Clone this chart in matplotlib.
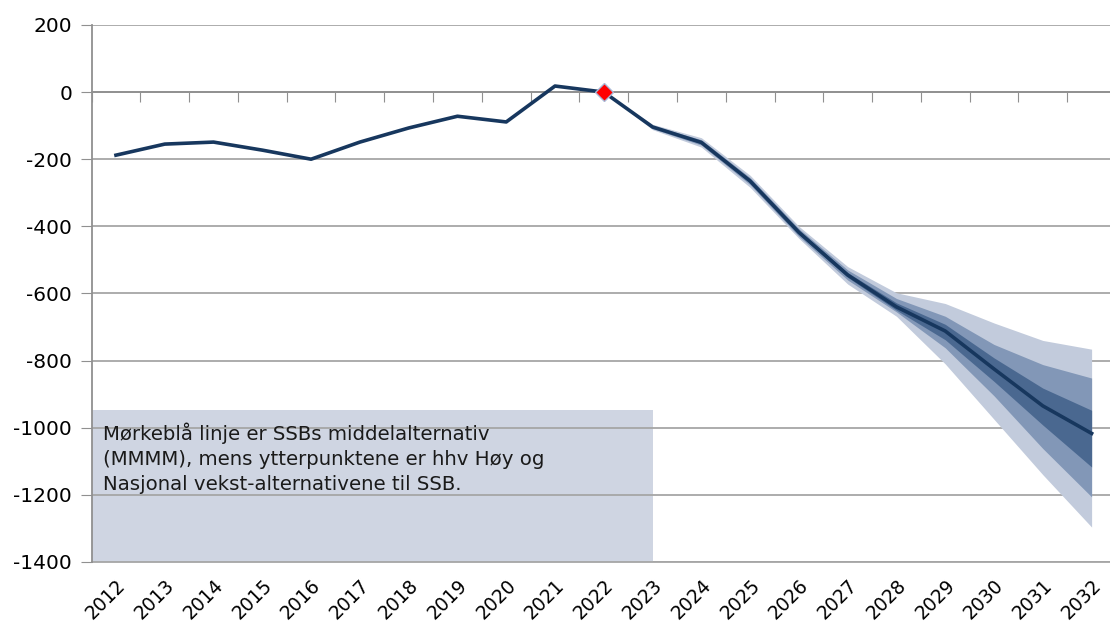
import numpy as np
import matplotlib
matplotlib.use("Agg")
import matplotlib.pyplot as plt
from matplotlib.patches import Rectangle

plt.rcParams["axes.unicode_minus"] = False

# ---------------------------------
# Data
# ---------------------------------
years = [str(y) for y in range(2012, 2033)]

# historical + middle alternative (2012-2032)
middle = [-188, -155, -149, -173, -200, -149, -107, -72, -89, 18, 0,
          -104, -150, -265, -418, -545, -640, -712, -825, -935, -1017]

# fan bands, 2022-2032
fan_years = years[10:]
light_hi = [0, -96, -136, -248, -400, -520, -598, -630, -688, -740, -766]
light_lo = [0, -112, -164, -284, -436, -572, -668, -810, -975, -1140, -1296]
mid_hi = [0, -99, -142, -255, -407, -530, -615, -668, -752, -812, -852]
mid_lo = [0, -109, -158, -276, -430, -560, -655, -762, -905, -1062, -1206]
dark_hi = [0, -102, -146, -260, -412, -538, -628, -692, -792, -882, -948]
dark_lo = [0, -106, -154, -270, -424, -552, -650, -738, -862, -992, -1117]

note = ("Mørkeblå linje er SSBs middelalternativ\n"
        "(MMMM), mens ytterpunktene er hhv Høy og\n"
        "Nasjonal vekst-alternativene til SSB.")

# ---------------------------------
# Chart
# ---------------------------------
fig = plt.figure(figsize=(11.1, 6.3), dpi=100)
ax = fig.add_axes([0.0825, 0.108, 0.9229, 0.8524])

x = np.arange(len(years))
fx = x[10:]

ax.add_patch(Rectangle((-0.5, -1400), 11.5, 1400 - 948, facecolor="#cfd5e2",
                       edgecolor="none", zorder=0.3))

ax.fill_between(fx, light_lo, light_hi, color="#c2cbdc", lw=0, zorder=1)
ax.fill_between(fx, mid_lo, mid_hi, color="#8297b7", lw=0, zorder=1.1)
ax.fill_between(fx, dark_lo, dark_hi, color="#4a6890", lw=0, zorder=1.2)
ax.plot(x, middle, color="#17375e", lw=2.6, zorder=3)
ax.plot(x[10], middle[10], marker="D", ms=9, color="#ff0000",
        mec="#a9b8d6", mew=1, zorder=4)

ax.text(-0.27, -985, note, fontsize=14.2, va="top", ha="left",
        linespacing=1.38, color="#1a1a1a", zorder=5)

ax.set_xlim(-0.5, 20.5)
ax.set_ylim(-1400, 200)
ax.set_yticks(range(-1400, 201, 200))
ax.tick_params(axis="y", length=8, color="#909090", labelsize=14.5, pad=6)
ax.grid(axis="y", color="#a6a6a6", lw=1.3)
ax.set_axisbelow(True)

for s in ["top", "right"]:
    ax.spines[s].set_visible(False)
ax.spines["left"].set_color("#909090")
ax.spines["left"].set_linewidth(1.3)

# category axis crosses at 0, tick marks between categories
ax.spines["bottom"].set_position(("data", 0))
ax.spines["bottom"].set_color("#909090")
ax.spines["bottom"].set_linewidth(1.3)
ax.set_xticks(np.arange(-0.5, 20.6, 1))
ax.tick_params(axis="x", length=7, color="#909090", labelbottom=False)

sec = ax.secondary_xaxis(0)
sec.set_xticks(x)
sec.set_xticklabels(years, rotation=45, ha="right", va="top",
                    rotation_mode="anchor", fontsize=13.5)
sec.tick_params(length=0, pad=10)
sec.spines["bottom"].set_color("#a6a6a6")
sec.spines["bottom"].set_linewidth(1.3)

fig.savefig("out.png", dpi=100)
plt.close(fig)
